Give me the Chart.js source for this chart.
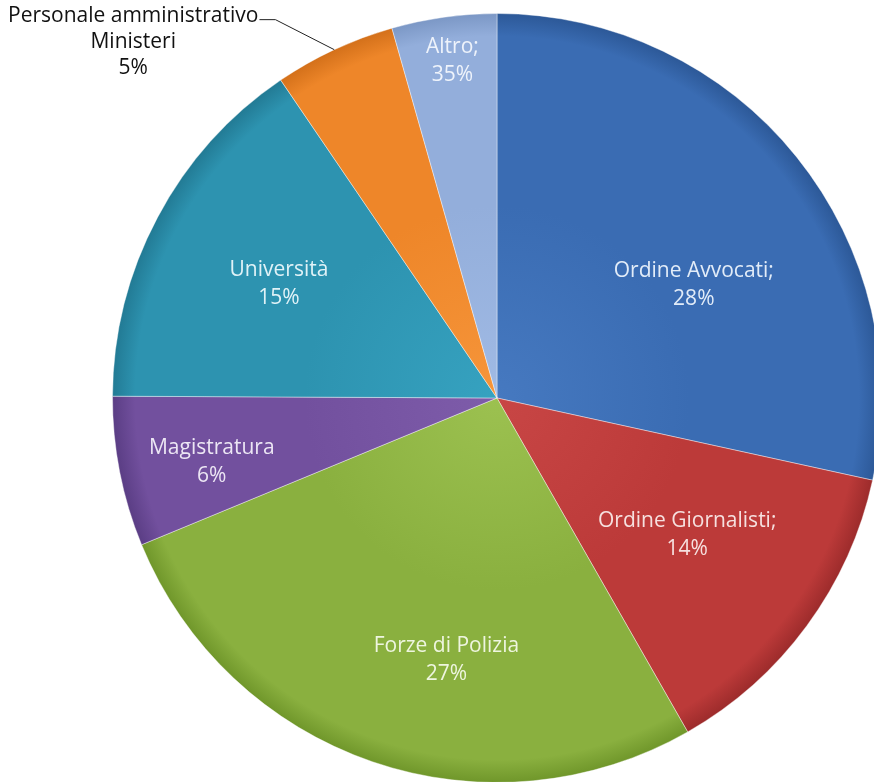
<!DOCTYPE html>
<html>
<head>
<meta charset="utf-8">
<script src="https://cdn.jsdelivr.net/npm/chart.js@4.4.0/dist/chart.umd.min.js"></script>
<style>
html, body { margin: 0; padding: 0; background: #fff; }
body { width: 874px; height: 782px; overflow: hidden; position: relative; }
#grafico { position: absolute; left: 0; top: 0; }
</style>
</head>
<body>
<canvas id="grafico" width="900" height="800"></canvas>
<script>
// Dati
const categorie = ['Ordine Avvocati', 'Ordine Giornalisti', 'Forze di Polizia', 'Magistratura', 'Università', 'Personale amministrativo Ministeri', 'Altro'];
const quote = [28.4, 13.3, 27.0, 6.3, 15.4, 5.1, 4.4];
const etichette = [
    ['Ordine Avvocati;', '28%'],
    ['Ordine Giornalisti;', '14%'],
    ['Forze di Polizia', '27%'],
    ['Magistratura', '6%'],
    ['Università', '15%'],
    ['Personale amministrativo', 'Ministeri', '5%'],
    ['Altro;', '35%']
];

// Stile
const colori = ['#3a6cb3', '#bc3a39', '#8ab03f', '#72509e', '#2d93b0', '#ee8629', '#93aedb'];
const chiari = ['#4679c0', '#c84645', '#9cc150', '#7e5caa', '#36a2c0', '#f6953a', '#a0bae4'];
const scuri  = ['#2c5897', '#9c2b2b', '#6f962a', '#5a3d84', '#227a94', '#d3701a', '#7b97c5'];
const coloriTesto = ['#e2ecf8', '#f6e0df', '#eef5df', '#ece6f4', '#e0f2f7', '#111111', '#eef3fb'];
// posizione etichette: spostamento angolare (gradi) e frazione del raggio
const posEtichette = [
    { da: 9, rf: 0.59 },
    { da: -0.5, rf: 0.61 },
    { da: -8, rf: 0.695 },
    { da: -1.5, rf: 0.76 },
    { da: -0.4, rf: 0.64 },
    null,
    { da: 0.4, rf: 0.885 }
];

function sfumatura(context) {
    const i = context.dataIndex;
    const chart = context.chart;
    const area = chart.chartArea;
    if (!area) return colori[i];
    const cx = (area.left + area.right) / 2;
    const cy = (area.top + area.bottom) / 2;
    const r = Math.min(area.right - area.left, area.bottom - area.top) / 2;
    const g = chart.ctx.createRadialGradient(cx, cy, 0, cx, cy, r);
    g.addColorStop(0, chiari[i]);
    g.addColorStop(0.5, colori[i]);
    g.addColorStop(0.94, colori[i]);
    g.addColorStop(1, scuri[i]);
    return g;
}

const etichettePlugin = {
    id: 'etichette',
    afterDatasetsDraw(chart) {
        const ctx = chart.ctx;
        const meta = chart.getDatasetMeta(0);
        ctx.save();
        ctx.font = '21px "Open Sans", Lato, sans-serif';
        ctx.textAlign = 'center';
        ctx.textBaseline = 'middle';
        meta.data.forEach((arc, i) => {
            const p = arc.getProps(['x', 'y', 'startAngle', 'endAngle', 'outerRadius'], true);
            const mid = (p.startAngle + p.endAngle) / 2;
            const righe = etichette[i];
            ctx.fillStyle = coloriTesto[i];
            if (posEtichette[i]) {
                const a = mid + posEtichette[i].da * Math.PI / 180;
                const r = p.outerRadius * posEtichette[i].rf;
                const lx = p.x + r * Math.cos(a);
                const ly = p.y + r * Math.sin(a);
                const passo = 28;
                righe.forEach((t, k) => {
                    ctx.fillText(t, lx, ly + (k - (righe.length - 1) / 2) * passo);
                });
            } else {
                // etichetta esterna con linea guida
                const bx = p.x + p.outerRadius * Math.cos(mid);
                const by = p.y + p.outerRadius * Math.sin(mid);
                const lx = bx - 201;
                const ly = by - 8;
                const passo = 26;
                const y0 = ly - (righe.length - 1) / 2 * passo;
                righe.forEach((t, k) => {
                    ctx.fillText(t, lx, y0 + k * passo);
                });
                const w = ctx.measureText(righe[0]).width;
                const xs = lx + w / 2 + 1;
                ctx.strokeStyle = '#222';
                ctx.lineWidth = 1;
                ctx.beginPath();
                ctx.moveTo(xs, y0 + 4);
                ctx.lineTo(xs + 16, y0 + 4);
                ctx.lineTo(bx, by);
                ctx.stroke();
            }
        });
        ctx.restore();
    }
};

new Chart(document.getElementById('grafico'), {
    type: 'pie',
    data: {
        labels: categorie,
        datasets: [{
            data: quote,
            backgroundColor: sfumatura,
            borderColor: 'rgba(255,255,255,0.4)',
            borderWidth: 1
        }]
    },
    options: {
        responsive: false,
        animation: false,
        layout: { padding: { left: 112, top: 13, right: 18, bottom: 17 } },
        plugins: {
            legend: { display: false },
            tooltip: { enabled: false }
        }
    },
    plugins: [etichettePlugin]
});
</script>
</body>
</html>
